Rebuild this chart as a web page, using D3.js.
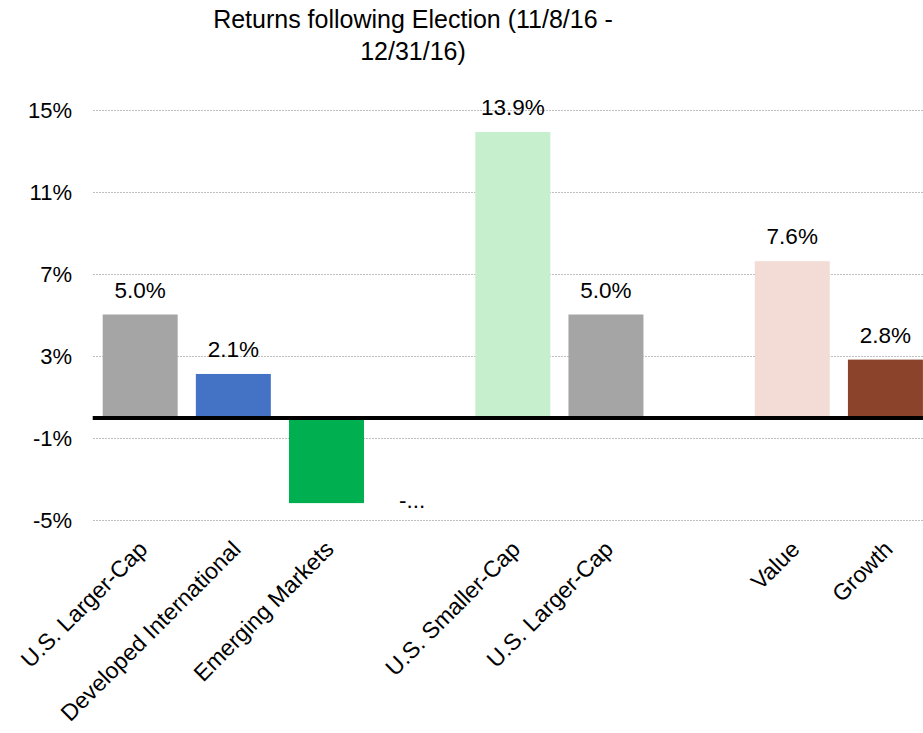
<!DOCTYPE html>
<html>
<head>
<meta charset="utf-8">
<script src="https://cdn.jsdelivr.net/npm/d3@7"></script>
<style>
  html, body { margin: 0; padding: 0; background: #fff; overflow: hidden; }
  svg { display: block; font-family: "Liberation Sans", Arial, sans-serif; }
</style>
</head>
<body>
<svg id="chart" width="923" height="733"></svg>
<script>
// Category slots (blank names are spacer slots between groups)
const categories = ["U.S. Larger-Cap", "Developed International", "Emerging Markets", "",
                    "U.S. Smaller-Cap", "U.S. Larger-Cap", "", "Value", "Growth"];
// Returns in percent, 11/8/16 - 12/31/16
const returns = [5.0, 2.1, -4.2, null, 13.9, 5.0, null, 7.6, 2.8];
const barColors = ["#A5A5A5", "#4472C4", "#00B050", null, "#C6EFCE", "#A5A5A5", null, "#F2DCD5", "#8B432B"];
// Data labels that do not fit are shown cut short
const clippedLabels = [2];
const yTicks = [-5, -1, 3, 7, 11, 15];
const titleLines = ["Returns following Election (11/8/16 -", "12/31/16)"];

const svg = d3.select("#chart");
const idx = d3.range(categories.length);

const x = d3.scaleBand().domain(idx).range([93.6, 932]).paddingInner(0.195).paddingOuter(0.0975);
const y = d3.scaleLinear().domain([-5, 15]).range([519.5, 109.5]);
const cx = i => x(i) + x.bandwidth() / 2;

// title
svg.append("g").selectAll("text").data(titleLines).join("text")
  .attr("x", 413).attr("y", (d, i) => 28 + i * 32)
  .attr("text-anchor", "middle").attr("font-size", 25).attr("fill", "#000")
  .text(d => d);

// gridlines
svg.append("g").selectAll("line").data(yTicks).join("line")
  .attr("x1", 93).attr("x2", 923)
  .attr("y1", d => Math.round(y(d)) + 0.5).attr("y2", d => Math.round(y(d)) + 0.5)
  .attr("stroke", "#BFBFBF").attr("stroke-width", 1).attr("stroke-dasharray", "2,1");

// y tick labels
const yAxis = d3.axisLeft(y).tickValues(yTicks).tickFormat(d => d + "%").tickSize(0).tickPadding(0);
const ya = svg.append("g").attr("transform", "translate(72,0)").call(yAxis);
ya.select(".domain").remove();
ya.selectAll("text").attr("font-size", 22).attr("fill", "#000")
  .attr("font-family", "Liberation Sans, Arial, sans-serif").attr("dy", "0.35em");

// bars
const data = idx.filter(i => returns[i] !== null);
svg.append("g").selectAll("rect").data(data).join("rect")
  .attr("x", i => x(i)).attr("width", x.bandwidth())
  .attr("y", i => y(Math.max(0, returns[i])))
  .attr("height", i => Math.abs(y(returns[i]) - y(0)))
  .attr("fill", i => barColors[i]);

// zero line
svg.append("line")
  .attr("x1", 92.7).attr("x2", 923)
  .attr("y1", y(0) + 1).attr("y2", y(0) + 1)
  .attr("stroke", "#000").attr("stroke-width", 4);

// data labels
const fmt = v => (v < 0 ? "-" : "") + d3.format(".1f")(Math.abs(v)) + "%";
svg.append("g").selectAll("text").data(data).join("text")
  .attr("text-anchor", "middle").attr("font-size", 22.5).attr("fill", "#000")
  .attr("x", i => clippedLabels.includes(i) ? cx(i) + x.step() * 0.92 : cx(i))
  .attr("y", i => clippedLabels.includes(i) ? y(returns[i]) + 5 : y(returns[i]) - 17)
  .text(i => {
    const s = fmt(returns[i]);
    return clippedLabels.includes(i) ? s[0] + "..." : s;
  });

// category labels
svg.append("g").selectAll("text").data(idx.filter(i => categories[i] !== "")).join("text")
  .attr("transform", i => `translate(${cx(i) + 3},545) rotate(-45)`)
  .attr("text-anchor", "end").attr("dy", "0.35em")
  .attr("font-size", 23).attr("fill", "#000")
  .text(i => categories[i]);
</script>
</body>
</html>
